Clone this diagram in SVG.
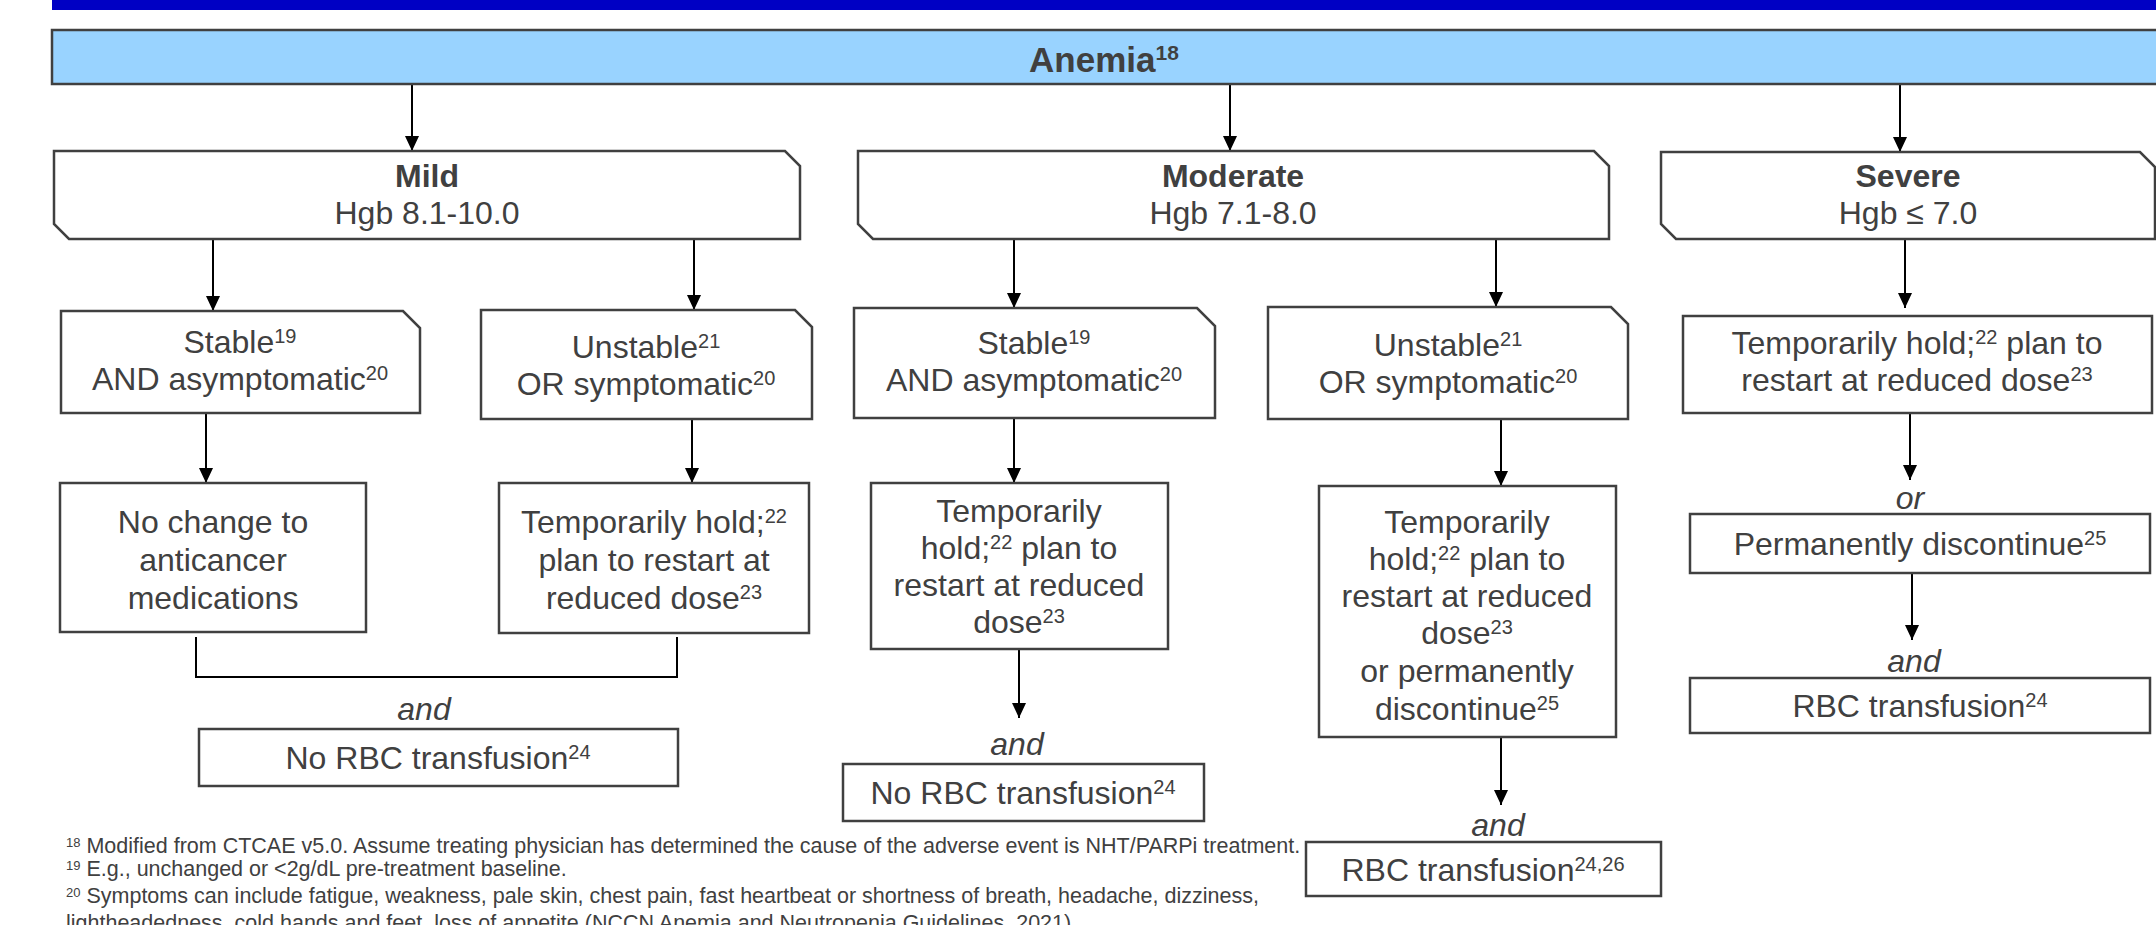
<svg xmlns="http://www.w3.org/2000/svg" width="2156" height="925" viewBox="0 0 2156 925">
<defs>
<style>
.t{font-family:"Liberation Sans",Arial,sans-serif;font-size:32px;fill:#404040;text-anchor:middle}
.b{font-weight:bold}
.i{font-style:italic}
.s{font-size:20px}
.box{fill:#fff;stroke:#404040;stroke-width:2.5}
.c{stroke:#000;stroke-width:2;fill:none}
.a{marker-end:url(#ah)}
.fn{font-family:"Liberation Sans",Arial,sans-serif;font-size:21.5px;fill:#404040}
.fs{font-size:13px}
</style>
<marker id="ah" viewBox="0 0 15 14" refX="15" refY="7" markerWidth="15" markerHeight="14" markerUnits="userSpaceOnUse" orient="auto">
<path d="M0,0 L15,7 L0,14 Z" fill="#000"/>
</marker>
</defs>
<rect x="52" y="0" width="2110" height="10" fill="#0000C4"/>

<g id="connectors">
<path class="c a" d="M412,84 V151"/>
<path class="c a" d="M1230,84 V151"/>
<path class="c a" d="M1900,84 V152"/>
<path class="c a" d="M213,239 V311"/>
<path class="c a" d="M694,239 V310"/>
<path class="c a" d="M1014,239 V308"/>
<path class="c a" d="M1496,239 V307"/>
<path class="c a" d="M1905,239 V308"/>
<path class="c a" d="M206,413 V483"/>
<path class="c a" d="M692,419 V483"/>
<path class="c a" d="M1014,418 V483"/>
<path class="c a" d="M1501,419 V486"/>
<path class="c" d="M196,637 V677 H677 V637"/>
<path class="c a" d="M1019,649 V718"/>
<path class="c a" d="M1910,413 V480"/>
<path class="c a" d="M1912,573 V640"/>
<path class="c a" d="M1501,737 V805"/>
</g>

<g id="anemia">
<rect x="52" y="30" width="2110" height="54" fill="#99D3FF" stroke="#404040" stroke-width="2.5"/>
<text class="t b" x="1104" y="72" style="font-size:35px">Anemia<tspan class="s" style="font-size:21px" dy="-12">18</tspan></text>
</g>

<g id="mild">
<path class="box" d="M54,151 H785 L800,166 V239 H69 L54,224 Z"/>
<text class="t b" x="427" y="187">Mild</text>
<text class="t" x="427" y="224">Hgb 8.1-10.0</text>
</g>
<g id="moderate">
<path class="box" d="M858,151 H1594 L1609,166 V239 H873 L858,224 Z"/>
<text class="t b" x="1233" y="187">Moderate</text>
<text class="t" x="1233" y="224">Hgb 7.1-8.0</text>
</g>
<g id="severe">
<path class="box" d="M1661,152 H2140 L2155,167 V239 H1676 L1661,224 Z"/>
<text class="t b" x="1908" y="187">Severe</text>
<text class="t" x="1908" y="224">Hgb ≤ 7.0</text>
</g>

<g id="mild-stable">
<path class="box" d="M61,311 H403 L420,328 V413 H61 Z"/>
<text class="t" x="240" y="353">Stable<tspan class="s" dy="-10">19</tspan></text>
<text class="t" x="240" y="390">AND asymptomatic<tspan class="s" dy="-10">20</tspan></text>
</g>
<g id="mild-unstable">
<path class="box" d="M481,310 H795 L812,327 V419 H481 Z"/>
<text class="t" x="646" y="358">Unstable<tspan class="s" dy="-10">21</tspan></text>
<text class="t" x="646" y="395">OR symptomatic<tspan class="s" dy="-10">20</tspan></text>
</g>
<g id="moderate-stable">
<path class="box" d="M854,308 H1197 L1215,326 V418 H854 Z"/>
<text class="t" x="1034" y="354">Stable<tspan class="s" dy="-10">19</tspan></text>
<text class="t" x="1034" y="391">AND asymptomatic<tspan class="s" dy="-10">20</tspan></text>
</g>
<g id="moderate-unstable">
<path class="box" d="M1268,307 H1611 L1628,324 V419 H1268 Z"/>
<text class="t" x="1448" y="356">Unstable<tspan class="s" dy="-10">21</tspan></text>
<text class="t" x="1448" y="393">OR symptomatic<tspan class="s" dy="-10">20</tspan></text>
</g>
<g id="severe-hold">
<rect class="box" x="1683" y="316" width="469" height="97"/>
<text class="t" x="1917" y="354">Temporarily hold;<tspan class="s" dy="-10">22</tspan><tspan dy="10"> plan to</tspan></text>
<text class="t" x="1917" y="391">restart at reduced dose<tspan class="s" dy="-10">23</tspan></text>
</g>

<g id="mild-nochange">
<rect class="box" x="60" y="483" width="306" height="149"/>
<text class="t" x="213" y="533">No change to</text>
<text class="t" x="213" y="571">anticancer</text>
<text class="t" x="213" y="609">medications</text>
</g>
<g id="mild-hold">
<rect class="box" x="499" y="483" width="310" height="150"/>
<text class="t" x="654" y="533">Temporarily hold;<tspan class="s" dy="-10">22</tspan></text>
<text class="t" x="654" y="571">plan to restart at</text>
<text class="t" x="654" y="609">reduced dose<tspan class="s" dy="-10">23</tspan></text>
</g>
<g id="moderate-hold">
<rect class="box" x="871" y="483" width="297" height="166"/>
<text class="t" x="1019" y="522">Temporarily</text>
<text class="t" x="1019" y="559">hold;<tspan class="s" dy="-10">22</tspan><tspan dy="10"> plan to</tspan></text>
<text class="t" x="1019" y="596">restart at reduced</text>
<text class="t" x="1019" y="633">dose<tspan class="s" dy="-10">23</tspan></text>
</g>
<g id="moderate-hold-or-discontinue">
<rect class="box" x="1319" y="486" width="297" height="251"/>
<text class="t" x="1467" y="533">Temporarily</text>
<text class="t" x="1467" y="570">hold;<tspan class="s" dy="-10">22</tspan><tspan dy="10"> plan to</tspan></text>
<text class="t" x="1467" y="607">restart at reduced</text>
<text class="t" x="1467" y="644">dose<tspan class="s" dy="-10">23</tspan></text>
<text class="t" x="1467" y="682">or permanently</text>
<text class="t" x="1467" y="720">discontinue<tspan class="s" dy="-10">25</tspan></text>
</g>

<g id="severe-or">
<text class="t i" x="1910" y="509">or</text>
</g>
<g id="severe-discontinue">
<rect class="box" x="1690" y="514" width="460" height="59"/>
<text class="t" x="1920" y="555">Permanently discontinue<tspan class="s" dy="-10">25</tspan></text>
</g>

<g id="labels-and">
<text class="t i" x="424" y="720">and</text>
<text class="t i" x="1017" y="755">and</text>
<text class="t i" x="1914" y="672">and</text>
<text class="t i" x="1498" y="836">and</text>
</g>

<g id="mild-norbc">
<rect class="box" x="199" y="729" width="479" height="57"/>
<text class="t" x="438" y="769">No RBC transfusion<tspan class="s" dy="-10">24</tspan></text>
</g>
<g id="moderate-norbc">
<rect class="box" x="843" y="764" width="361" height="57"/>
<text class="t" x="1023" y="804">No RBC transfusion<tspan class="s" dy="-10">24</tspan></text>
</g>
<g id="severe-rbc">
<rect class="box" x="1690" y="678" width="460" height="55"/>
<text class="t" x="1920" y="717">RBC transfusion<tspan class="s" dy="-10">24</tspan></text>
</g>
<g id="moderate-rbc">
<rect class="box" x="1306" y="842" width="355" height="54"/>
<text class="t" x="1483" y="881">RBC transfusion<tspan class="s" dy="-10">24,26</tspan></text>
</g>

<g id="footnotes">
<text class="fn" x="66" y="853"><tspan class="fs" dy="-6">18</tspan><tspan dy="6"> Modified from CTCAE v5.0. Assume treating physician has determined the cause of the adverse event is NHT/PARPi treatment.</tspan></text>
<text class="fn" x="66" y="876"><tspan class="fs" dy="-6">19</tspan><tspan dy="6"> E.g., unchanged or &lt;2g/dL pre-treatment baseline.</tspan></text>
<text class="fn" x="66" y="903"><tspan class="fs" dy="-6">20</tspan><tspan dy="6"> Symptoms can include fatigue, weakness, pale skin, chest pain, fast heartbeat or shortness of breath, headache, dizziness,</tspan></text>
<text class="fn" x="66" y="930">lightheadedness, cold hands and feet, loss of appetite (NCCN Anemia and Neutropenia Guidelines, 2021).</text>
</g>
</svg>
